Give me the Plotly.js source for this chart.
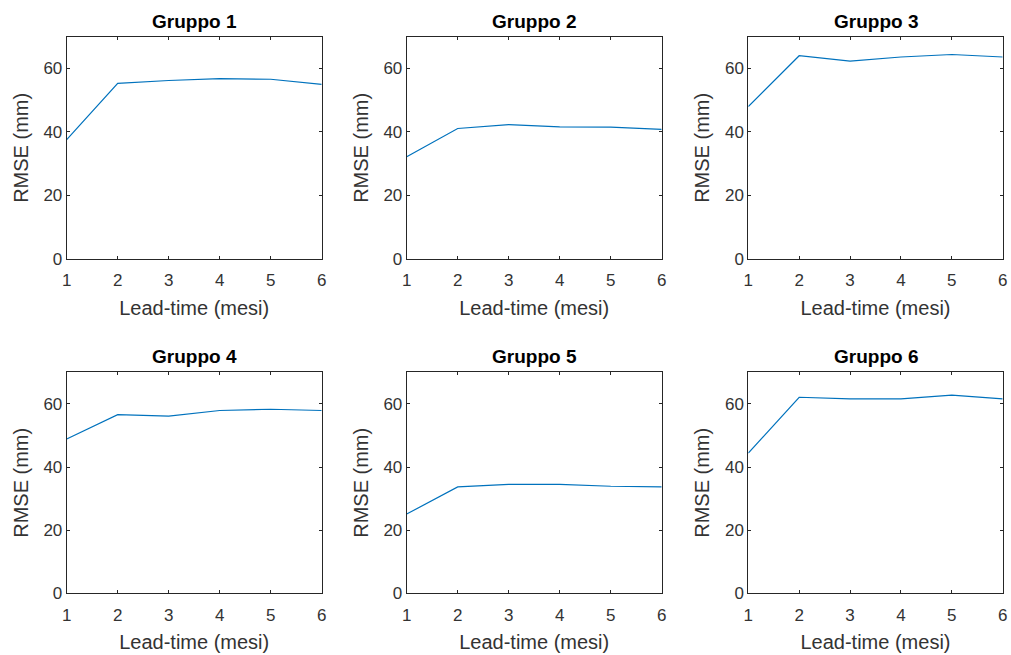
<!DOCTYPE html>
<html>
<head>
<meta charset="utf-8">
<script src="https://cdn.plot.ly/plotly-3.0.1.min.js"></script>
<style>html,body{margin:0;padding:0;background:#fff;}#chart{width:1011px;height:655px;}</style>
</head>
<body>
<div id="chart"></div>
<script>
const leadTime = [1, 2, 3, 4, 5, 6];
const groupNames = ["Gruppo 1", "Gruppo 2", "Gruppo 3", "Gruppo 4", "Gruppo 5", "Gruppo 6"];
const gruppo1 = [37.6, 55.3, 56.2, 56.8, 56.6, 55.0];
const gruppo2 = [32.2, 41.1, 42.3, 41.6, 41.5, 40.8];
const gruppo3 = [48.0, 64.0, 62.3, 63.6, 64.4, 63.6];
const gruppo4 = [48.9, 56.6, 56.1, 57.9, 58.3, 57.9];
const gruppo5 = [25.1, 33.7, 34.5, 34.5, 33.9, 33.7];
const gruppo6 = [44.4, 62.1, 61.6, 61.6, 62.8, 61.6];
const yTicks = [0, 20, 40, 60];
const xTicks = [1, 2, 3, 4, 5, 6];

const series = [gruppo1, gruppo2, gruppo3, gruppo4, gruppo5, gruppo6];
const W = 1011, H = 655;
const xDom = [[66.7/W, 321.7/W], [406.7/W, 661.7/W], [748.3/W, 1002.7/W]];
const yDom = [[1 - 259/H, 1 - 36.7/H], [1 - 593.3/H, 1 - 372.3/H]];

const fontFam = "Liberation Sans, Arial, Helvetica, sans-serif";
const axColor = "#262626";
const txtColor = "#333333";
const traces = [];
const layout = {
  width: W, height: H, autosize: false,
  margin: {l: 0, r: 0, t: 0, b: 0},
  paper_bgcolor: "#ffffff", plot_bgcolor: "#ffffff",
  showlegend: false,
  font: {family: fontFam, color: axColor},
  annotations: []
};

series.forEach((vals, i) => {
  const n = i + 1;
  const xa = n === 1 ? "x" : "x" + n;
  const ya = n === 1 ? "y" : "y" + n;
  traces.push({
    x: leadTime, y: vals, type: "scatter", mode: "lines",
    xaxis: xa, yaxis: ya,
    line: {color: "#0072BD", width: 1.2},
    hoverinfo: "x+y"
  });
  const col = i % 3, row = Math.floor(i / 3);
  const common = {
    showline: true, mirror: "ticks", linecolor: axColor, linewidth: 1,
    ticks: "inside", ticklen: 3, tickcolor: axColor,
    showgrid: false, zeroline: false,
    tickfont: {family: fontFam, size: 17, color: txtColor}
  };
  layout["xaxis" + (n === 1 ? "" : n)] = Object.assign({}, common, {
    domain: xDom[col], anchor: ya, range: [1, 6],
    tickvals: xTicks, ticktext: xTicks.map(String),
    ticklabelstandoff: 6,
    title: {text: "Lead-time (mesi)", font: {family: fontFam, size: 20, color: txtColor}, standoff: 11}
  });
  layout["yaxis" + (n === 1 ? "" : n)] = Object.assign({}, common, {
    domain: yDom[row], anchor: xa, range: [0, 70],
    tickvals: yTicks, ticktext: yTicks.map(String),
    title: {text: "RMSE (mm)", font: {family: fontFam, size: 20, color: txtColor}, standoff: 9}
  });
  layout.annotations.push({
    text: "<b>" + groupNames[i] + "</b>",
    xref: "paper", yref: "paper",
    x: (xDom[col][0] + xDom[col][1]) / 2, y: yDom[row][1],
    xanchor: "center", yanchor: "bottom", yshift: 3,
    showarrow: false,
    font: {family: fontFam, size: 19, color: "#000000"}
  });
});

Plotly.newPlot("chart", traces, layout, {displayModeBar: false, staticPlot: true});
</script>
</body>
</html>
